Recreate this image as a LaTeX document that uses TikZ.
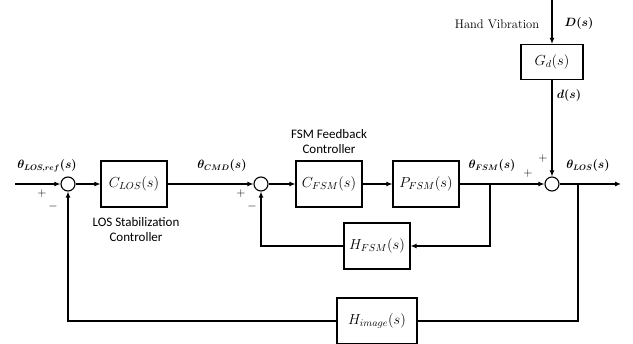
\RequirePackage{fix-cm}
\documentclass[tikz,border=0pt]{standalone}
\usepackage{amsmath}
\usepackage{bm}
\usepackage{fontspec}
\setsansfont{Carlito}
\usetikzlibrary{arrows.meta,calc}
\begin{document}
\begin{tikzpicture}[x=1pt,y=-1pt,
  line width=1.1pt,
  blk/.style={draw,minimum width=66pt,minimum height=46pt,inner sep=0pt,font=\fontsize{14.5}{16}\selectfont},
  sumc/.style={draw,circle,minimum size=14pt,inner sep=0pt},
  arr/.style={-{Latex[length=6pt,width=5pt]}},
  sig/.style={font=\fontsize{12}{14}\selectfont},
  pm/.style={font=\fontsize{12}{14}\selectfont},
  note/.style={font=\sffamily\fontsize{13}{15}\selectfont,align=center}]
\useasboundingbox (0,0) rectangle (633,344);
\clip (0,0) rectangle (633,344);
% nodes
\coordinate (inL) at (15,184);
\node[sumc] (s1) at (68,184) {};
\node[blk] (clos) at (134,184) {$C_{LOS}(s)$};
\node[sumc] (s2) at (261,184) {};
\node[blk] (cfsm) at (329,184) {$C_{FSM}(s)$};
\node[blk] (pfsm) at (426,184) {$P_{FSM}(s)$};
\node[sumc] (s3) at (552,184) {};
\coordinate (out) at (621,184);
\node[blk,minimum width=62pt,minimum height=35pt] (gd) at (552,62) {$G_d(s)$};
\coordinate (top) at (552,0);
\node[blk] (hfsm) at (377,246) {$H_{FSM}(s)$};
\node[blk,minimum width=80pt,minimum height=46pt] (himg) at (377,321) {$H_{image}(s)$};
\coordinate (bfsm) at (490,184);
\coordinate (blos) at (578,184);
% connectors
\draw[arr] (inL) -- (s1);
\draw[arr] (s1) -- (clos);
\draw[arr] (clos) -- (s2);
\draw[arr] (s2) -- (cfsm);
\draw[arr] (cfsm) -- (pfsm);
\draw[arr] (pfsm) -- (s3);
\draw[arr] (s3) -- (out);
\draw[arr] (top) -- (gd);
\draw[arr] (gd) -- (s3);
\draw[arr] (bfsm) |- (hfsm.east);
\draw[arr] (hfsm.west) -| (s2.south);
\draw (blos) |- (himg.east);
\draw[arr] (himg.west) -| (s1.south);
% labels
\node[sig] (lref) at (47,166) {$\bm{\theta_{LOS,ref}(s)}$};
\node[pm] (p1) at (42,194) {$+$};
\node[pm] (m1) at (53,207) {$-$};
\node[note] (nlos) at (136,230) {LOS Stabilization\\Controller};
\node[sig] (lcmd) at (222,166) {$\bm{\theta_{CMD}(s)}$};
\node[pm] (p2) at (241,194) {$+$};
\node[pm] (m2) at (252,207) {$-$};
\node[note] (nfsm) at (329,142) {FSM Feedback\\Controller};
\node[sig] (lfsm) at (492,166) {$\bm{\theta_{FSM}(s)}$};
\node[pm] (p3) at (528,174) {$+$};
\node[pm] (p4) at (543,159) {$+$};
\node[sig] (llos) at (588,166) {$\bm{\theta_{LOS}(s)}$};
\node[font=\fontsize{12.5}{14}\selectfont] (hv) at (497,24) {Hand Vibration};
\node[sig] (lD) at (579,24) {$\bm{D(s)}$};
\node[sig] (ld) at (569,96) {$\bm{d(s)}$};
\end{tikzpicture}
\end{document}
